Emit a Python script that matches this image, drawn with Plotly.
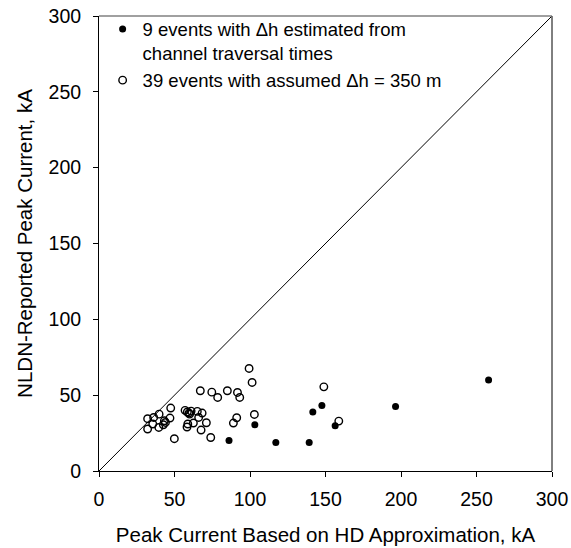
import plotly.graph_objects as go

# Events with Δh estimated from channel traversal times (filled)
hd_filled = [86.1, 117.1, 139.2, 103.2, 141.6, 147.6, 156.4, 196.4, 258.0]
nldn_filled = [20.1, 18.8, 18.8, 30.5, 38.9, 43.2, 29.8, 42.6, 60.0]

# Events with assumed Δh = 350 m (open)
hd_open = [32.2, 36.2, 39.8, 47.5, 47.0, 43.3, 42.6, 39.6, 35.6, 32.2,
           49.9, 57.0, 58.5, 59.6, 65.1, 68.3, 66.0, 62.5, 58.8, 58.3,
           71.1, 67.6, 74.0, 78.6, 67.1, 74.7, 85.0, 91.7, 93.2, 99.4,
           101.4, 102.9, 91.2, 89.0, 148.9, 158.8, 60.0, 44.0, 61.0]
nldn_open = [34.5, 35.3, 37.5, 41.5, 34.9, 33.1, 30.5, 28.7, 31.0, 27.7,
             21.3, 40.0, 38.9, 38.2, 39.3, 38.2, 35.3, 31.6, 31.0, 29.0,
             31.8, 27.0, 22.1, 48.5, 52.9, 52.0, 52.9, 51.8, 48.5, 67.6,
             58.4, 37.3, 35.1, 31.6, 55.5, 32.9, 37.5, 32.0, 39.5]

one_to_one = [0, 300]
ticks = [0, 50, 100, 150, 200, 250, 300]

FONT = "Liberation Sans, Arial, sans-serif"

fig = go.Figure()
fig.add_trace(go.Scatter(x=one_to_one, y=one_to_one, mode="lines",
                         line=dict(color="black", width=1), showlegend=False,
                         hoverinfo="skip"))
fig.add_trace(go.Scatter(x=hd_filled, y=nldn_filled, mode="markers",
                         name="9 events with \u0394h estimated from<br>channel traversal times",
                         marker=dict(symbol="circle", size=7, color="black",
                                     line=dict(width=0))))
fig.add_trace(go.Scatter(x=hd_open, y=nldn_open, mode="markers",
                         name="39 events with assumed \u0394h = 350 m",
                         marker=dict(symbol="circle-open", size=7.5, color="black",
                                     line=dict(width=1.4, color="black"))))

axis_common = dict(range=[0, 300], tickvals=ticks, showgrid=False, zeroline=False,
                   showline=True, linecolor="black", linewidth=1, automargin=False,
                   ticks="outside", ticklen=5, tickwidth=1, tickcolor="black",
                   tickfont=dict(family=FONT, size=19.5, color="black"))

fig.update_xaxes(**axis_common, ticklabelstandoff=6,
                 title=dict(text="Peak Current Based on HD Approximation, kA",
                            font=dict(family=FONT, size=20.5, color="black"),
                            standoff=18))
fig.update_yaxes(**axis_common, ticklabelstandoff=8,
                 title=dict(text="NLDN-Reported Peak Current, kA",
                            font=dict(family=FONT, size=20.5, color="black"),
                            standoff=10))

# right (black) and top (gray) frame lines
fig.add_shape(type="line", xref="paper", yref="paper", x0=1, x1=1, y0=0, y1=1,
              line=dict(color="black", width=1))
fig.add_shape(type="line", xref="paper", yref="paper", x0=0, x1=1, y0=1, y1=1,
              line=dict(color="#808080", width=1.5))

fig.update_layout(
    width=571, height=548,
    margin=dict(l=99, r=19, t=16, b=77, autoexpand=False),
    plot_bgcolor="white", paper_bgcolor="white",
    font=dict(family=FONT, color="black"),
    legend=dict(x=0.008, y=1.012, xanchor="left", yanchor="top",
                bgcolor="rgba(0,0,0,0)", font=dict(family=FONT, size=18.5),
                valign="top", tracegroupgap=0),
)

fig.write_html("out.html")
